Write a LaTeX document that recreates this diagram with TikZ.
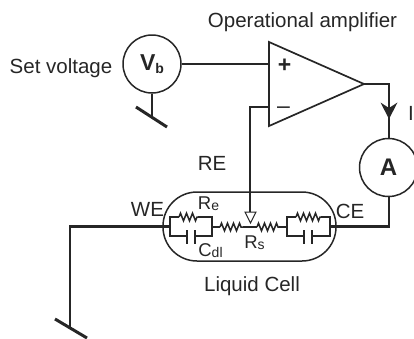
\documentclass[tikz,border=0pt]{standalone}
\usepackage{fontspec}
\setmainfont{Liberation Sans}
\usetikzlibrary{decorations.pathmorphing}
\newcommand{\fsz}[1]{\fontsize{#1}{#1}\selectfont}
\newcommand{\elemname}[2]{{\fsz{18.5}#1}{\fsz{14}\raisebox{-1pt}{#2}}}
\begin{document}
\begin{tikzpicture}[x=1pt,y=-1pt,
    wire/.style={draw=black!85, line width=1.7pt},
    thick wire/.style={draw=black!85, line width=2.4pt},
    thin wire/.style={draw=black!85, line width=1.5pt},
    meter/.style={circle, draw=black!85, line width=1.5pt, fill=white, minimum size=58pt, inner sep=0pt, text=black!85},
    ground bar/.style={draw=black!85, line width=3pt},
    zig/.style={thin wire, decoration={zigzag, amplitude=3.8pt, segment length=6pt}, decorate},
    label/.style={inner sep=0pt, anchor=base, font=\fsz{20.5}, text=black!85}
]
\useasboundingbox (0,0) rectangle (414,338);

% opamp
\coordinate (P) at (269,64);
\coordinate (M) at (269,107);
\node (Vb) [meter] at (152,64) {\raisebox{-1pt}{\fsz{23}\bfseries V\raisebox{-3pt}{\fsz{14}b}}};
\node (Am) [meter] at (388.5,167.5) {\fsz{24}\bfseries A};
\draw[wire] (269,42) coordinate (T) -- (364,84) coordinate (O) -- (269,126) coordinate (B) -- cycle;
\node (plus) [label] at (284.5,72) {\fsz{23}\bfseries +};
\node (minus) [label] at (283.5,113) {\fsz{23}--};

% cell
\node (Cell) [draw=black!85, line width=1.5pt, rounded corners=34pt, minimum width=173pt, minimum height=69pt, inner sep=0pt] at (249.5,226.5) {};

% source and ground
\draw[wire] (Vb.east) -- (P);
\coordinate (G1) at (152,116);
\draw[thin wire] (Vb.south) -- (G1);
\draw[ground bar] (136,107) -- (167,127);

% feedback and output
\coordinate (Rk) at (250,107);
\coordinate (Rt) at (250,212);
\coordinate (Ot) at (389,84);
\draw[thick wire] (M) -- (Rk) -- (Rt);
\draw[thick wire] (O) -- (Ot) -- (Ot |- Am.north);
\fill[black!85] (389,119) -- (380.5,102.5) -- (389,108) -- (397.5,102.5) -- cycle;
\draw[draw=black!85, line width=1pt, fill=white] (245,212) -- (256,212) -- (250.5,223) -- cycle;

% left branch
\coordinate (W) at (170,227);
\coordinate (Wk) at (70,226.5);
\coordinate (Wb) at (70,328);
\draw[thick wire] (W) -- (W |- Wk) -- (Wk) -- (Wb);
\draw[ground bar] (55,319) -- (87,338);

% right branch
\coordinate (E) at (330,227);
\coordinate (Ek) at (389,226.5);
\draw[thick wire] (E) -- (E |- Ek) -- (Ek) -- (Ek |- Am.south);

% left RC
\draw[wire] (W) -- (170,217) -- (179,217);
\draw[zig] (179,217) -- (198,217);
\draw[wire] (198,217) -- (212,217) -- (212,236) -- (195,236);
\draw[wire] (W) -- (170,236) -- (187,236);
\draw[thick wire] (187,230) -- (187,244);
\draw[thick wire] (195,230) -- (195,244);

% series R
\draw[wire] (212,227) -- (220,227);
\draw[zig] (220,227) -- (243,227);
\draw[wire] (243,227) -- (257,227);
\draw[zig] (257,227) -- (279,227);
\draw[wire] (279,227) -- (287,227);

% right RC
\draw[wire] (287,227) -- (287,217) -- (296,217);
\draw[zig] (296,217) -- (321,217);
\draw[wire] (321,217) -- (330,217) -- (330,236) -- (312,236);
\draw[wire] (287,227) -- (287,236) -- (304,236);
\draw[thick wire] (304,230) -- (304,244);
\draw[thick wire] (312,230) -- (312,244);

% labels
\node (title) [label] at (302.5,27) {Operational amplifier};
\node (set) [label] at (61,73) {Set voltage};
\node (RE) [label] at (212,170) {RE};
\node (WE) [label] at (147.5,216) {WE};
\node (CE) [label] at (350,218) {CE};
\node (Re) [label] at (208.5,209.5) {\elemname{R}{e}};
\node (Rs) [label] at (254.5,248.5) {\elemname{R}{s}};
\node (Cdl) [label] at (210.5,256.5) {\elemname{C}{dl}};
\node (cellname) [label] at (252,291) {Liquid Cell};
\node (I) [label, anchor=base west] at (408,120) {I};
\end{tikzpicture}
\end{document}
